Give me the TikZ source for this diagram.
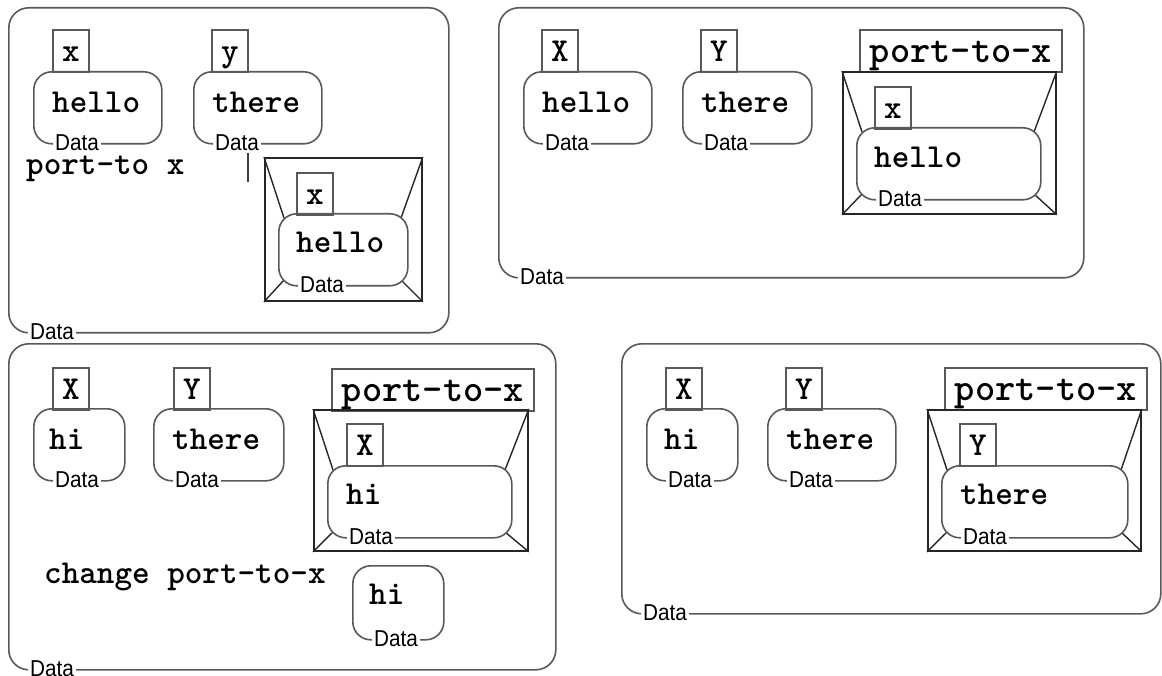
\documentclass[tikz,border=0pt]{standalone}
\usepackage{fontspec}
\newfontfamily\tagfam{Liberation Sans}[FakeStretch=0.9]
\usepackage{tikz}

\begin{document}
\begin{tikzpicture}[x=1pt,y=-1pt,
  panel/.style={draw=black!65, line width=1.6pt, rounded corners=20pt, anchor=north west, inner sep=0pt},
  dbox/.style={draw=black!65, line width=1.6pt, rounded corners=18pt, anchor=north west, inner sep=0pt, minimum height=72pt},
  nbox/.style={draw=black!65, line width=1.8pt, anchor=north west, inner sep=0pt, minimum width=36pt, minimum height=42pt, text height=21pt, text depth=0pt, font=\ttfamily\bfseries\fontsize{33.5}{34}\selectfont},
  lbox/.style={nbox, minimum width=202pt, text height=24pt, font=\ttfamily\bfseries\fontsize{38.5}{39}\selectfont},
  frm/.style={draw=black!85, line width=1.8pt, anchor=north west, inner sep=0pt},
  frmline/.style={draw=black!85, line width=1.4pt},
  code/.style={anchor=base west, inner sep=0pt, font=\ttfamily\bfseries\fontsize{33.5}{34}\selectfont},
  tag/.style={anchor=west, fill=white, inner xsep=2pt, inner ysep=0pt, font=\tagfam\fontsize{23}{23}\selectfont},
  cursorln/.style={draw=black!75, line width=1.4pt}]
\useasboundingbox (0,0) rectangle (1162,676);

% panel 1: port-to x
\node[panel, minimum width=440pt, minimum height=325pt] (p1) at (8,7) {};
\node[dbox, minimum width=128pt] (p1a) at (33,71) {};
\node[nbox] (p1an) at (52,29) {x};
\node[code] (p1at) at (52,113) {hello};
\node[dbox, minimum width=128pt] (p1b) at (193,71) {};
\node[nbox] (p1bn) at (211,29) {y};
\node[code] (p1bt) at (212,113) {there};
\node[code] (p1cmd) at (26,175) {port-to x};
\draw[cursorln] (248,153) -- (248,182);
\node[frm, minimum width=157pt, minimum height=143pt] (p1f) at (264,157) {};

% panel 2: after port-to
\node[panel, minimum width=585pt, minimum height=270pt] (p2) at (498,7) {};
\node[dbox, minimum width=128pt] (p2a) at (523,71) {};
\node[nbox] (p2an) at (541,29) {X};
\node[code] (p2at) at (542,113) {hello};
\node[dbox, minimum width=129pt] (p2b) at (682,71) {};
\node[nbox] (p2bn) at (700,29) {Y};
\node[code] (p2bt) at (701,113) {there};
\node[lbox] (p2l) at (859,29) {port-to-x};
\node[frm, minimum width=213pt, minimum height=142pt] (p2f) at (842,71) {};

% panel 3: change
\node[panel, minimum width=547pt, minimum height=326pt] (p3) at (8,343) {};
\node[dbox, minimum width=91pt] (p3a) at (33,408) {};
\node[nbox] (p3an) at (52,367) {X};
\node[code] (p3at) at (49,449) {hi};
\node[dbox, minimum width=130pt] (p3b) at (153,408) {};
\node[nbox] (p3bn) at (173,367) {Y};
\node[code] (p3bt) at (172,449) {there};
\node[lbox] (p3l) at (331,368) {port-to-x};
\node[frm, minimum width=214pt, minimum height=141pt] (p3f) at (313,409) {};
\node[code] (p3cmd) at (44,583) {change port-to-x};
\node[dbox, minimum width=91pt, minimum height=74pt] (p3e) at (352,565) {};
\node[code] (p3et) at (369,604) {hi};

% panel 4: retarget
\node[panel, minimum width=539pt, minimum height=270pt] (p4) at (621,343) {};
\node[dbox, minimum width=91pt] (p4a) at (646,408) {};
\node[nbox] (p4an) at (665,367) {X};
\node[code] (p4at) at (664,449) {hi};
\node[dbox, minimum width=128pt] (p4b) at (767,408) {};
\node[nbox] (p4bn) at (785,367) {Y};
\node[code] (p4bt) at (786,449) {there};
\node[lbox] (p4l) at (944,367) {port-to-x};
\node[frm, minimum width=213pt, minimum height=141pt] (p4f) at (927,409) {};

% frame bevels
\foreach \f/\b/\w in {p1f/p1d/129, p2f/p2d/184, p3f/p3d/184, p4f/p4d/186} {
\coordinate (\b o) at ([shift={(14,56)}]\f.north west);
\draw[frmline] (\f.north west) -- ([shift={(6,5)}]\b o);
\draw[frmline] (\f.north east) -- ([shift={(\w-6,5)}]\b o);
\draw[frmline] (\f.south west) -- ([shift={(6,67)}]\b o);
\draw[frmline] (\f.south east) -- ([shift={(\w-6,67)}]\b o);
}

% inner boxes
\node[dbox, minimum width=129pt, fill=white] (p1d) at (p1do) {};
\node[nbox] (p1dn) at (296,172) {x};
\node[code] (p1dt) at (296,253) {hello};
\node[dbox, minimum width=184pt, fill=white] (p2d) at (p2do) {};
\node[nbox] (p2dn) at (874,86) {x};
\node[code] (p2dt) at (874,168) {hello};
\node[dbox, minimum width=184pt, fill=white] (p3d) at (p3do) {};
\node[nbox] (p3dn) at (346,423) {X};
\node[code] (p3dt) at (346,504) {hi};
\node[dbox, minimum width=186pt, fill=white] (p4d) at (p4do) {};
\node[nbox] (p4dn) at (959,423) {Y};
\node[code] (p4dt) at (960,504) {there};

% Data tags
\foreach \b in {p1,p1a,p1b,p1d,p2,p2a,p2b,p2d,p3,p3a,p3b,p3d,p3e,p4,p4a,p4b,p4d} {
\node[tag] (tag\b) at ([shift={(20,-2)}]\b.south west) {Data};
}
\end{tikzpicture}
\end{document}
